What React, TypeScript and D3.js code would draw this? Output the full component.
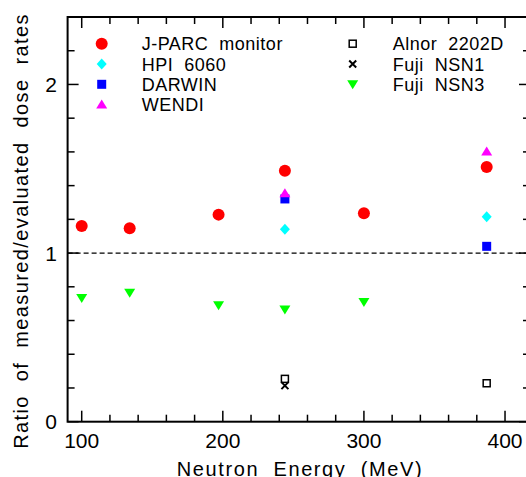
import React, { useEffect, useRef } from 'react';
import * as d3 from 'd3';

// neutron energies (MeV)
const jparcE = [100, 134, 197, 244, 300, 387];
const jparcR = [1.16, 1.147, 1.228, 1.488, 1.236, 1.51];
const hpiE = [244, 387];
const hpiR = [1.141, 1.216];
const darwinE = [244, 387];
const darwinR = [1.321, 1.04];
const wendiE = [244, 387];
const wendiR = [1.355, 1.603];
const nsn3E = [100, 134, 197, 244, 300];
const nsn3R = [0.734, 0.764, 0.69, 0.665, 0.71];
const alnorE = [244, 387];
const alnorR = [0.254, 0.228];
const nsn1E = [244];
const nsn1R = [0.214];

const xTicks = [100, 200, 300, 400];
const yTicks = [0, 1, 2];

const legendLeft = [
  { name: 'J-PARC  monitor', key: 'jparc' },
  { name: 'HPI  6060', key: 'hpi' },
  { name: 'DARWIN', key: 'darwin' },
  { name: 'WENDI', key: 'wendi' },
];
const legendRight = [
  { name: 'Alnor  2202D', key: 'alnor' },
  { name: 'Fuji  NSN1', key: 'nsn1' },
  { name: 'Fuji  NSN3', key: 'nsn3' },
];

const FONT = 'Liberation Sans, Arial, sans-serif';

const drawMarker = (g, key, cx, cy) => {
  if (key === 'jparc') {
    g.append('circle').attr('cx', cx).attr('cy', cy).attr('r', 6).attr('fill', '#ff0000');
  } else if (key === 'hpi') {
    g.append('path')
      .attr('d', `M${cx},${cy - 5.5}L${cx + 5},${cy}L${cx},${cy + 5.5}L${cx - 5},${cy}Z`)
      .attr('fill', '#00ffff');
  } else if (key === 'darwin') {
    g.append('rect').attr('x', cx - 4.5).attr('y', cy - 4.5).attr('width', 9).attr('height', 9).attr('fill', '#0000ff');
  } else if (key === 'wendi') {
    g.append('path')
      .attr('d', `M${cx},${cy - 5}L${cx + 5.5},${cy + 4}L${cx - 5.5},${cy + 4}Z`)
      .attr('fill', '#ff00ff');
  } else if (key === 'nsn3') {
    g.append('path')
      .attr('d', `M${cx - 5.5},${cy - 4}L${cx + 5.5},${cy - 4}L${cx},${cy + 5}Z`)
      .attr('fill', '#00ff00');
  } else if (key === 'alnor') {
    g.append('rect').attr('x', cx - 3.5).attr('y', cy - 3.5).attr('width', 7).attr('height', 7)
      .attr('fill', 'white').attr('stroke', 'black').attr('stroke-width', 1.5);
  } else if (key === 'nsn1') {
    g.append('path')
      .attr('d', `M${cx - 3.5},${cy - 3.5}L${cx + 3.5},${cy + 3.5}M${cx + 3.5},${cy - 3.5}L${cx - 3.5},${cy + 3.5}`)
      .attr('stroke', 'black').attr('stroke-width', 2).attr('fill', 'none');
  }
};

const RatioChart = () => {
  const svgRef = useRef(null);

  useEffect(() => {
    const svg = d3.select(svgRef.current);
    svg.selectAll('*').remove();

    const left = 67.6, right = 530, top = 17, bottom = 421.7;

    const xScale = d3.scaleLinear().domain([90, 417.7]).range([left, right]);
    const yScale = d3.scaleLinear().domain([0, 2.4]).range([bottom, top]);

    const ax = svg.append('g').attr('stroke', 'black');

    // minor / major ticks on all four sides
    d3.range(100, 418, 20).forEach(v => {
      const len = v % 100 === 0 ? 11 : 7;
      const x = xScale(v);
      ax.append('line').attr('x1', x).attr('x2', x).attr('y1', bottom).attr('y2', bottom - len).attr('stroke-width', 1.5);
      ax.append('line').attr('x1', x).attr('x2', x).attr('y1', top).attr('y2', top + len).attr('stroke-width', 1.5);
    });
    d3.range(0, 12).map(i => i * 0.2).forEach((v, i) => {
      const len = i % 5 === 0 ? 11 : 7;
      const y = yScale(v);
      ax.append('line').attr('x1', left).attr('x2', left + len).attr('y1', y).attr('y2', y).attr('stroke-width', 1.5);
      ax.append('line').attr('x1', right).attr('x2', right - len).attr('y1', y).attr('y2', y).attr('stroke-width', 1.5);
    });

    // dashed reference at ratio = 1
    svg.append('line')
      .attr('x1', left).attr('x2', right)
      .attr('y1', yScale(1)).attr('y2', yScale(1))
      .attr('stroke', 'black').attr('stroke-width', 1.3)
      .attr('stroke-dasharray', '5,3');

    // frame
    svg.append('rect')
      .attr('x', left).attr('y', top)
      .attr('width', right - left).attr('height', bottom - top)
      .attr('fill', 'none').attr('stroke', 'black').attr('stroke-width', 2);

    // tick labels
    svg.selectAll('.xlab').data(xTicks).enter().append('text')
      .attr('class', 'xlab')
      .attr('x', d => xScale(d)).attr('y', 448)
      .attr('text-anchor', 'middle')
      .style('font-family', FONT).style('font-size', '21px')
      .text(d => d);

    svg.selectAll('.ylab').data(yTicks).enter().append('text')
      .attr('class', 'ylab')
      .attr('x', 57).attr('y', d => yScale(d) + 7.5)
      .attr('text-anchor', 'end')
      .style('font-family', FONT).style('font-size', '21px')
      .text(d => d);

    svg.append('text')
      .attr('x', 300).attr('y', 476)
      .attr('text-anchor', 'middle')
      .style('font-family', FONT).style('font-size', '20px')
      .style('letter-spacing', '1.6px')
      .style('white-space', 'pre')
      .text('Neutron  Energy  (MeV)');

    svg.append('text')
      .attr('transform', 'translate(28,231) rotate(-90)')
      .attr('text-anchor', 'middle')
      .style('font-family', FONT).style('font-size', '20px')
      .style('letter-spacing', '1.4px')
      .style('white-space', 'pre')
      .text('Ratio  of  measured/evaluated  dose  rates');

    // data
    const pts = svg.append('g');
    const series = [
      ['nsn3', nsn3E, nsn3R],
      ['alnor', alnorE, alnorR],
      ['nsn1', nsn1E, nsn1R],
      ['darwin', darwinE, darwinR],
      ['hpi', hpiE, hpiR],
      ['wendi', wendiE, wendiR],
      ['jparc', jparcE, jparcR],
    ];
    series.forEach(([key, es, rs]) => {
      es.forEach((e, i) => drawMarker(pts, key, xScale(e), yScale(rs[i])));
    });

    // legend
    const lg = svg.append('g');
    const legendText = (x, y, t) => lg.append('text')
      .attr('x', x).attr('y', y)
      .style('font-family', FONT).style('font-size', '18px')
      .style('letter-spacing', '0.5px')
      .style('white-space', 'pre')
      .text(t);
    legendLeft.forEach((d, i) => {
      const cy = 43.7 + i * 20.3;
      drawMarker(lg, d.key, 101.7, cy);
      legendText(141.7, cy + 6.5, d.name);
    });
    legendRight.forEach((d, i) => {
      const cy = 43.7 + i * 20.3;
      drawMarker(lg, d.key, 352.7, cy);
      legendText(392.7, cy + 6.5, d.name);
    });
  }, []);

  return (
    <svg ref={svgRef} width={526} height={477}
      style={{ position: 'absolute', left: 0, top: 0, background: 'white' }} />
  );
};

export default function App() {
  return <RatioChart />;
}
